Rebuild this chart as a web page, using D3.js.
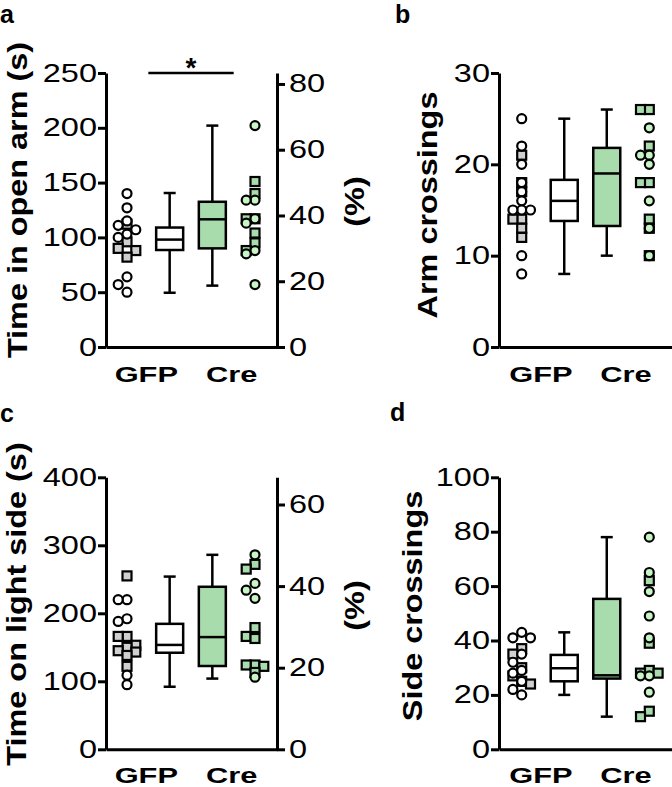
<!DOCTYPE html>
<html><head><meta charset="utf-8">
<script src="https://cdn.jsdelivr.net/npm/d3@7"></script>
<style>body{margin:0;background:#fff}svg{display:block}</style>
</head><body>
<svg id="chart" width="672" height="787"></svg>
<script>
// ---------- DATA ----------
const groups = ["GFP", "Cre"];

// a: Time in open arm (s); right axis = % of 300 s
const aGfpCircles = [140, 127, 115, 111, 107, 103, 100, 64, 57, 50];
const aGfpSquares = [112, 96, 90, 88, 82];
const aCreCircles = [202, 134, 134, 117, 113, 88, 85, 57];
const aCreSquares = [151, 140, 117, 117, 104, 95, 88];
const aBoxGfp = [49.5, 88.5, 98, 109, 140.5];   // min, q1, median, q3, max
const aBoxCre = [56, 90, 116.5, 132.5, 202];
const aTicks = [0, 50, 100, 150, 200, 250];
const aPctTicks = [0, 20, 40, 60, 80];

// b: Arm crossings
const bGfpCircles = [25, 22, 20, 18, 17, 16, 15, 15, 15, 10, 8];
const bGfpSquares = [21, 18, 17, 14, 14, 13, 12];
const bCreCircles = [24, 21, 21, 20, 16, 13, 10];
const bCreSquares = [26, 26, 22, 18, 18, 14, 13, 10];
const bBoxGfp = [8, 13.8, 16, 18.3, 25];
const bBoxCre = [10, 13.25, 19, 21.8, 26];
const bTicks = [0, 10, 20, 30];

// c: Time on light side (s); right axis = % of 600 s
const cGfpCircles = [220, 220, 192, 188, 109, 95];
const cGfpSquares = [255, 166, 166, 153, 150, 145, 143, 138, 122];
const cCreCircles = [286, 244, 234, 222, 106];
const cCreSquares = [272, 265, 179, 166, 163, 124, 124, 122, 113];
const cBoxGfp = [92, 142, 153.5, 184.5, 254];
const cBoxCre = [104, 122.5, 165, 239, 286];
const cTicks = [0, 100, 200, 300, 400];
const cPctTicks = [0, 20, 40, 60];

// d: Side crossings
const dGfpCircles = [43, 41, 41, 35, 32, 29, 28, 25, 22, 20];
const dGfpSquares = [37, 35, 30, 27, 25, 24];
const dCreCircles = [78, 65, 58, 49, 41, 27, 27, 21];
const dCreSquares = [62, 39, 29, 28, 28, 14, 12];
const dBoxGfp = [20, 25, 29.8, 34.7, 43];
const dBoxCre = [12, 26, 27.2, 55.3, 78];
const dTicks = [0, 20, 40, 60, 80, 100];

// ---------- STYLE ----------
const C = {
  grey: "#d0d0d0", white: "#ffffff",
  greenBox: "#a9dcac", greenSq: "#a9dcac", greenCirc: "#c8f5c6"
};
const FONT = "'Liberation Sans', Arial, Helvetica, sans-serif";

const svg = d3.select("#chart");

function stretchX(sel, f) {
  sel.attr("transform", function () {
    const x = +this.getAttribute("x") || 0;
    return `translate(${x},0) scale(${f},1) translate(${-x},0)`;
  });
}

// simple column scatter: offsets limited to -1,0,+1 slots
function dodge(values, y, step, diam) {
  const sorted = values.slice().sort((a, b) => b - a);
  const placed = [];
  const cands = [0, -1, 1];
  sorted.forEach(v => {
    const py = y(v);
    let best = null, bestScore = -1;
    for (const c of cands) {
      const px = c * step;
      const score = placed.length ? d3.min(placed, q => Math.hypot(q.px - px, q.py - py)) : Infinity;
      if (score >= diam) { best = px; bestScore = score; break; }
      if (score > bestScore) { bestScore = score; best = px; }
    }
    placed.push({ v, px: best, py });
  });
  return placed;
}

function drawPanel(cfg) {
  const g = svg.append("g");
  const y = d3.scaleLinear().domain([0, cfg.max]).range([cfg.y0, cfg.yT]);
  const x = d3.scalePoint().domain(["gPts", "gBox", "cBox", "cPts"]).range(cfg.cols);

  // left axis
  g.append("g").attr("transform", `translate(${cfg.xL},0)`)
    .call(d3.axisLeft(y).tickValues(cfg.ticks).tickSize(8).tickSizeOuter(0).tickPadding(1).tickFormat(d3.format("d")));
  // right axis
  if (cfg.pctMax) {
    const y2 = d3.scaleLinear().domain([0, cfg.pctMax]).range([cfg.y0, cfg.yT]);
    g.append("g").attr("transform", `translate(${cfg.xR},0)`)
      .call(d3.axisRight(y2).tickValues(cfg.pctTicks).tickSize(8).tickSizeOuter(0).tickPadding(4).tickFormat(d3.format("d")));
  }
  // x axis line
  const xs = d3.scaleLinear().range([cfg.xL, cfg.xR]);
  g.append("g").attr("transform", `translate(0,${cfg.y0})`)
    .call(d3.axisBottom(xs).tickValues([]).tickSizeOuter(0));

  g.selectAll(".domain").attr("stroke", "#000").attr("stroke-width", 3);
  g.selectAll(".tick line").attr("stroke", "#000").attr("stroke-width", 3);
  g.selectAll(".tick text").attr("font-family", FONT).attr("font-size", 25).attr("fill", "#000")
    .call(stretchX, 1.3);

  // category labels
  const catX = [(x("gPts") + x("gBox")) / 2 - 2, (x("cBox") + x("cPts")) / 2 - 2];
  g.selectAll(".cat").data(groups).join("text")
    .attr("x", (d, i) => catX[i]).attr("y", cfg.y0 + cfg.catDy)
    .attr("text-anchor", "middle").attr("font-family", FONT).attr("font-weight", "bold")
    .attr("font-size", 22).text(d => d).call(stretchX, 1.4);

  // boxes
  const boxes = [{ s: cfg.boxG, cx: x("gBox"), fill: C.white }, { s: cfg.boxC, cx: x("cBox"), fill: C.greenBox }];
  const bw = 27, cw = 12;
  boxes.forEach(b => {
    const bg = g.append("g").attr("stroke", "#000").attr("stroke-width", 2.5);
    bg.append("line").attr("x1", b.cx).attr("x2", b.cx).attr("y1", y(b.s[0])).attr("y2", y(b.s[4]));
    [b.s[0], b.s[4]].forEach(v => bg.append("line").attr("x1", b.cx - cw / 2).attr("x2", b.cx + cw / 2).attr("y1", y(v)).attr("y2", y(v)));
    bg.append("rect").attr("x", b.cx - bw / 2).attr("width", bw).attr("y", y(b.s[3])).attr("height", y(b.s[1]) - y(b.s[3])).attr("fill", b.fill);
    bg.append("line").attr("x1", b.cx - bw / 2).attr("x2", b.cx + bw / 2).attr("y1", y(b.s[2])).attr("y2", y(b.s[2]));
  });

  // points
  const step = 8.8, diam = 9, r = 4.5, sq = 9;
  const series = [
    { vals: cfg.gSq, cx: x("gPts"), shape: "sq", fill: C.grey },
    { vals: cfg.cSq, cx: x("cPts"), shape: "sq", fill: C.greenSq },
    { vals: cfg.gCi, cx: x("gPts"), shape: "ci", fill: C.white },
    { vals: cfg.cCi, cx: x("cPts"), shape: "ci", fill: C.greenCirc },
  ];
  series.forEach(s => {
    const pts = dodge(s.vals, y, step, diam);
    const pg = g.append("g").attr("stroke", "#000").attr("stroke-width", 2.2).attr("fill", s.fill);
    if (s.shape === "sq") {
      pg.selectAll("rect").data(pts).join("rect")
        .attr("x", d => s.cx + d.px - sq / 2).attr("y", d => d.py - sq / 2).attr("width", sq).attr("height", sq);
    } else {
      pg.selectAll("circle").data(pts).join("circle")
        .attr("cx", d => s.cx + d.px).attr("cy", d => d.py).attr("r", r);
    }
  });

  // y titles
  g.append("text").attr("transform", `translate(${cfg.titleX},${cfg.titleY}) rotate(-90) scale(1.2,1)`)
    .attr("text-anchor", "middle").attr("font-family", FONT).attr("font-weight", "bold").attr("font-size", 27).text(cfg.title);
  if (cfg.pctMax) {
    g.append("text").attr("transform", `translate(364,${cfg.titleY + 1.5}) rotate(-90) scale(1.16,1)`)
      .attr("text-anchor", "middle").attr("font-family", FONT).attr("font-weight", "bold").attr("font-size", 28).text("(%)");
  }
  // panel letter
  g.append("text").attr("x", cfg.letterX).attr("y", cfg.letterY).attr("font-family", FONT)
    .attr("font-weight", "bold").attr("font-size", 25).text(cfg.letter);

  return { g, x, y };
}

const pa = drawPanel({ letter: "a", letterX: 0, letterY: 23, xL: 106, xR: 277, y0: 347, yT: 73, cols: [127, 255], catDy: 35,
  max: 250, ticks: aTicks, pctMax: 250 / 3, pctTicks: aPctTicks, boxG: aBoxGfp, boxC: aBoxCre,
  gCi: aGfpCircles, gSq: aGfpSquares, cCi: aCreCircles, cSq: aCreSquares,
  title: "Time in open arm (s)", titleX: 26.6, titleY: 200 });
drawPanel({ letter: "b", letterX: 395, letterY: 23, xL: 499, xR: 672, y0: 347, yT: 73, cols: [521.7, 649.3], catDy: 35,
  max: 30, ticks: bTicks, boxG: bBoxGfp, boxC: bBoxCre,
  gCi: bGfpCircles, gSq: bGfpSquares, cCi: bCreCircles, cSq: bCreSquares,
  title: "Arm crossings", titleX: 437, titleY: 205 });
drawPanel({ letter: "c", letterX: 0, letterY: 422, xL: 106, xR: 277, y0: 749.3, yT: 477.3, cols: [127, 255], catDy: 33.5,
  max: 400, ticks: cTicks, pctMax: 400 / 6, pctTicks: cPctTicks, boxG: cBoxGfp, boxC: cBoxCre,
  gCi: cGfpCircles, gSq: cGfpSquares, cCi: cCreCircles, cSq: cCreSquares,
  title: "Time on light side (s)", titleX: 26, titleY: 604 });
drawPanel({ letter: "d", letterX: 390, letterY: 421, xL: 499, xR: 672, y0: 749.3, yT: 477.3, cols: [521.7, 649.3], catDy: 33.5,
  max: 100, ticks: dTicks, boxG: dBoxGfp, boxC: dBoxCre,
  gCi: dGfpCircles, gSq: dGfpSquares, cCi: dCreCircles, cSq: dCreSquares,
  title: "Side crossings", titleX: 422, titleY: 606 });

// significance bar in panel a
const sx1 = (pa.x("gPts") + pa.x("gBox")) / 2, sx2 = (pa.x("cBox") + pa.x("cPts")) / 2;
pa.g.append("line").attr("x1", sx1).attr("x2", sx2).attr("y1", pa.y(250)).attr("y2", pa.y(250))
  .attr("stroke", "#000").attr("stroke-width", 2.5);
pa.g.append("text").attr("x", (sx1 + sx2) / 2).attr("y", pa.y(250) + 3.5).attr("text-anchor", "middle")
  .attr("font-family", FONT).attr("font-weight", "bold").attr("font-size", 28).text("*");
</script>
</body></html>
